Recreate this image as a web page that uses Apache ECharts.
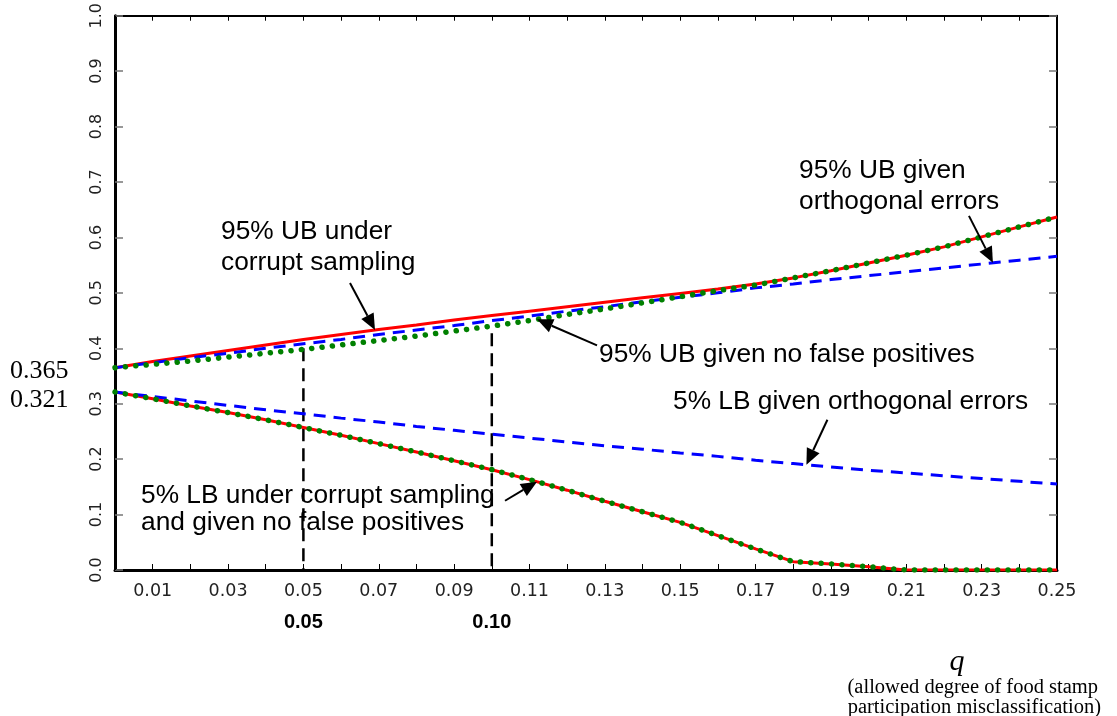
<!DOCTYPE html>
<html>
<head>
<meta charset="utf-8">
<script src="https://cdn.jsdelivr.net/npm/echarts@6/dist/echarts.min.js"></script>
<style>
  html, body { margin: 0; padding: 0; background: #fff; }
  #chart { width: 1117px; height: 716px; }
</style>
</head>
<body>
<div id="chart"></div>
<script>
// q: allowed degree of misclassification
const qValues = [0.00, 0.01, 0.02, 0.03, 0.04, 0.05, 0.06, 0.07, 0.08, 0.09,
                 0.10, 0.11, 0.12, 0.13, 0.14, 0.15, 0.16, 0.17, 0.18, 0.19,
                 0.20, 0.21, 0.22, 0.23, 0.24, 0.25];

// 95% upper bounds
const ubCorrupt    = [0.365, 0.376, 0.386, 0.396, 0.406, 0.416, 0.425, 0.434, 0.442, 0.451,
                      0.459, 0.467, 0.475, 0.483, 0.491, 0.499, 0.507, 0.516, 0.527, 0.540,
                      0.554, 0.568, 0.583, 0.601, 0.619, 0.637];
const ubOrthogonal = [0.365, 0.374, 0.383, 0.391, 0.400, 0.408, 0.416, 0.425, 0.433, 0.441,
                      0.450, 0.458, 0.467, 0.475, 0.484, 0.492, 0.500, 0.509, 0.516, 0.524,
                      0.531, 0.538, 0.545, 0.552, 0.559, 0.566];
const ubNoFalsePos = [0.365, 0.371, 0.377, 0.384, 0.391, 0.398, 0.406, 0.414, 0.422, 0.431,
                      0.440, 0.450, 0.461, 0.471, 0.482, 0.493, 0.504, 0.514, 0.527, 0.540,
                      0.554, 0.568, 0.583, 0.601, 0.619, 0.637];

// 5% lower bounds
const lbCorrupt    = [0.321, 0.309, 0.296, 0.284, 0.271, 0.257, 0.243, 0.228, 0.213, 0.197,
                      0.181, 0.163, 0.144, 0.124, 0.105, 0.086, 0.062, 0.038, 0.015, 0.011,
                      0.006, 0.000, 0.000, 0.000, 0.000, 0.000];
const lbOrthogonal = [0.321, 0.313, 0.305, 0.297, 0.289, 0.282, 0.274, 0.267, 0.259, 0.252,
                      0.245, 0.238, 0.231, 0.224, 0.218, 0.211, 0.205, 0.198, 0.192, 0.186,
                      0.180, 0.175, 0.170, 0.165, 0.160, 0.155];
const lbNoFalsePos = [0.321, 0.309, 0.296, 0.284, 0.271, 0.257, 0.243, 0.228, 0.213, 0.197,
                      0.181, 0.163, 0.144, 0.124, 0.105, 0.086, 0.062, 0.038, 0.015, 0.011,
                      0.006, 0.000, 0.000, 0.000, 0.000, 0.000];

// reference q levels marked with vertical guides
const guideQs = [0.05, 0.10];
const guideTops = [0.400, 0.427];
const guideLabels = ['0.05', '0.10'];

// bound values at q = 0
const startLabels = ['0.365', '0.321'];

const RED = '#ff0000', BLUE = '#0000ff', GREEN = '#008000';

const pairs = arr => qValues.map((q, i) => [q, arr[i]]);

function lineSeries(name, arr, color, kind) {
  const style = { color: color, width: 3 };
  if (kind === 'dashed') { style.type = [12, 8]; }
  if (kind === 'dotted') { style.type = [0.1, 10.3]; style.cap = 'round'; style.width = 5.5; }
  return {
    name: name, type: 'line', data: pairs(arr), symbol: 'none',
    lineStyle: style, z: kind === 'dotted' ? 5 : (kind === 'dashed' ? 4 : 3),
    silent: true
  };
}

const guideSeries = guideQs.map((q, i) => ({
  name: 'guide ' + guideLabels[i], type: 'line', symbol: 'none', silent: true,
  data: [[q, guideTops[i]], [q, 0]],
  lineStyle: { color: '#000', width: 2.5, type: [13, 7] }, z: 2
}));

const chart = echarts.init(document.getElementById('chart'), null, { renderer: 'canvas' });

const axisFont = '"DejaVu Sans", sans-serif';

chart.setOption({
  animation: false,
  backgroundColor: '#fff',
  grid: { left: 115, right: 60, top: 15, bottom: 146, containLabel: false },
  xAxis: [{
    type: 'value', min: 0, max: 0.25, interval: 0.01, position: 'bottom',
    axisLine: { show: true, onZero: false, lineStyle: { color: '#000', width: 3 } },
    axisTick: { show: true, inside: true, length: 6, lineStyle: { color: '#000', width: 1 } },
    splitLine: { show: false },
    axisLabel: {
      interval: 0, showMinLabel: true, showMaxLabel: true, margin: 12,
      color: '#222', fontFamily: axisFont, fontSize: 17.5,
      formatter: v => { const k = Math.round(v * 100); return k % 2 === 1 ? (k / 100).toFixed(2) : ''; }
    }
  }, {
    type: 'value', min: 0, max: 0.25, interval: 0.01, position: 'top',
    axisLine: { show: true, onZero: false, lineStyle: { color: '#000', width: 2 } },
    axisTick: { show: true, inside: true, length: 5, lineStyle: { color: '#000', width: 1 } },
    axisLabel: { show: false }, splitLine: { show: false }
  }],
  yAxis: [{
    type: 'value', min: 0, max: 1, interval: 0.1, position: 'left',
    axisLine: { show: true, onZero: false, lineStyle: { color: '#000', width: 3 } },
    axisTick: { show: true, inside: true, length: 8, lineStyle: { color: '#777', width: 1.5 } },
    splitLine: { show: false },
    axisLabel: {
      rotate: 90, margin: 10, color: '#222', fontFamily: axisFont, fontSize: 16,
      formatter: v => v.toFixed(1)
    }
  }, {
    type: 'value', min: 0, max: 1, interval: 0.1, position: 'right',
    axisLine: { show: true, onZero: false, lineStyle: { color: '#000', width: 2 } },
    axisTick: { show: true, inside: true, length: 8, lineStyle: { color: '#777', width: 1.5 } },
    axisLabel: { show: false }, splitLine: { show: false }
  }],
  series: [
    ...guideSeries,
    lineSeries('95% UB under corrupt sampling', ubCorrupt, RED, 'solid'),
    lineSeries('5% LB under corrupt sampling', lbCorrupt, RED, 'solid'),
    lineSeries('95% UB given orthogonal errors', ubOrthogonal, BLUE, 'dashed'),
    lineSeries('5% LB given orthogonal errors', lbOrthogonal, BLUE, 'dashed'),
    lineSeries('95% UB given no false positives', ubNoFalsePos, GREEN, 'dotted'),
    lineSeries('5% LB given no false positives', lbNoFalsePos, GREEN, 'dotted')
  ]
});

// value of a curve at an arbitrary q (linear between samples)
function valueAt(arr, q) {
  for (let i = 0; i < qValues.length - 1; i++) {
    if (q >= qValues[i] && q <= qValues[i + 1]) {
      const t = (q - qValues[i]) / (qValues[i + 1] - qValues[i]);
      return arr[i] + t * (arr[i + 1] - arr[i]);
    }
  }
  return arr[arr.length - 1];
}

const toPx = (q, v) => chart.convertToPixel({ gridIndex: 0 }, [q, v]);

// arrow from a tail offset to a point on a curve
function arrow(arr, q, dx, dy) {
  const tip = toPx(q, valueAt(arr, q));
  const tail = [tip[0] + dx, tip[1] + dy];
  const len = Math.hypot(tip[0] - tail[0], tip[1] - tail[1]);
  const ux = (tip[0] - tail[0]) / len, uy = (tip[1] - tail[1]) / len;
  const headLen = 16, half = 7;
  const bx = tip[0] - ux * headLen, by = tip[1] - uy * headLen;
  return [
    { type: 'line', silent: true, z: 20,
      shape: { x1: tail[0], y1: tail[1], x2: bx, y2: by },
      style: { stroke: '#000', lineWidth: 2 } },
    { type: 'polygon', silent: true, z: 20,
      shape: { points: [tip, [bx - uy * half, by + ux * half], [bx + uy * half, by - ux * half]] },
      style: { fill: '#000' } }
  ];
}

const annFont = '26.3px "Liberation Sans", Arial, sans-serif';
function text(str, x, y, font, align) {
  return {
    type: 'text', silent: true, z: 20, x: x, y: y,
    style: { text: str, font: font || annFont, fill: '#000',
             align: align || 'left', verticalAlign: 'middle',
             textAlign: align || 'left', textVerticalAlign: 'middle' }
  };
}

const graphics = [];

// curve annotations
graphics.push(text('95% UB under', 221, 232));
graphics.push(text('corrupt sampling', 221, 263));
graphics.push(...arrow(ubCorrupt, 0.069, -25, -47));

graphics.push(text('95% UB given', 799, 171));
graphics.push(text('orthogonal errors', 799, 202));
graphics.push(...arrow(ubOrthogonal, 0.233, -24, -47));

graphics.push(text('95% UB given no false positives', 599, 355));
graphics.push(...arrow(ubNoFalsePos, 0.112, 60, 26));

graphics.push(text('5% LB given orthogonal errors', 673, 402));
graphics.push(...arrow(lbOrthogonal, 0.1835, 21, -45));

graphics.push(text('5% LB under corrupt sampling', 141, 496));
graphics.push(text('and given no false positives', 141, 523));
graphics.push(...arrow(lbCorrupt, 0.112, -32, 19));

// starting values on the left
const serifFont = '26px "Liberation Serif", "Times New Roman", serif';
graphics.push(text(startLabels[0], 10, 371, serifFont));
graphics.push(text(startLabels[1], 10, 400, serifFont));

// bold q markers under the axis
guideQs.forEach((q, i) => {
  const px = toPx(q, 0);
  graphics.push(text(guideLabels[i], px[0], 622, 'bold 20px "Liberation Sans", Arial, sans-serif', 'center'));
});

// axis title
graphics.push(text('q', 957, 662, 'italic 30px "Liberation Serif", "Times New Roman", serif', 'center'));
const capFont = '20.5px "Liberation Serif", "Times New Roman", serif';
graphics.push(text('(allowed degree of food stamp', 1098, 688, capFont, 'right'));
graphics.push(text('participation misclassification)', 1101, 708, capFont, 'right'));

chart.setOption({ graphic: { elements: graphics } });
</script>
</body>
</html>
